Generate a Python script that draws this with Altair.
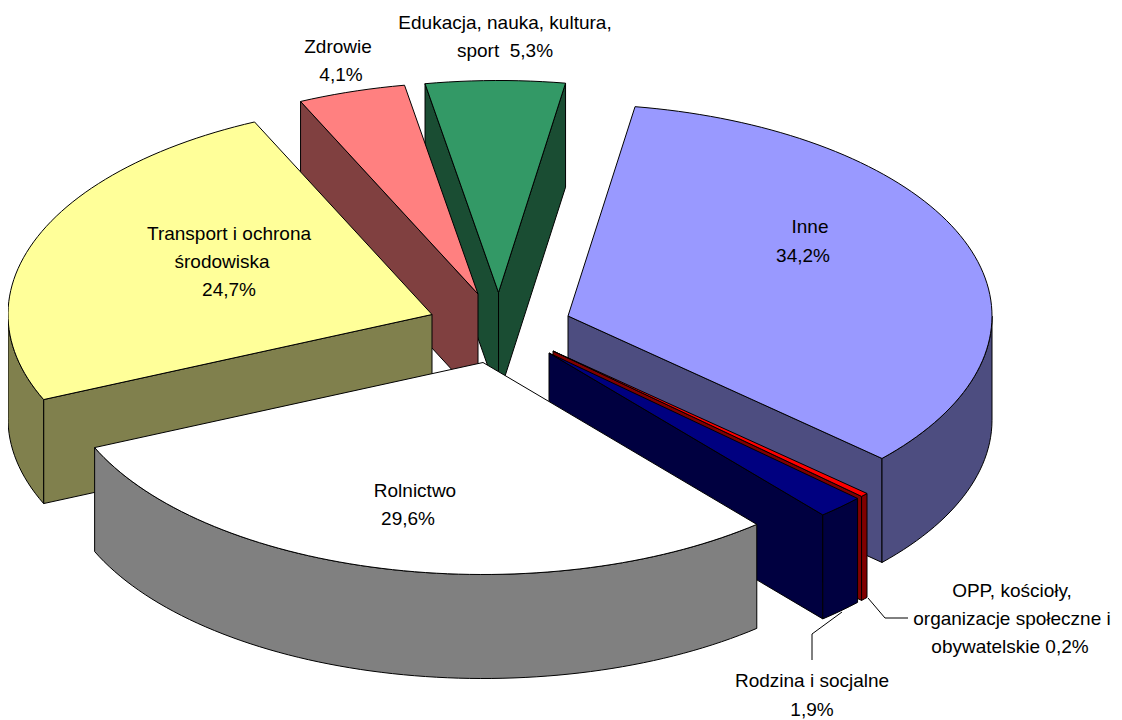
import math
import altair as alt
import pandas as pd

# Slice values in percent, clockwise from the first slice
categories = ["Inne", "OPP", "Rodzina", "Rolnictwo", "Transport", "Zdrowie", "Edukacja"]
values = [34.2, 0.3, 1.8, 29.6, 24.7, 4.1, 5.3]  # OPP reads 0,2 and Rodzina 1,9; the drawn strip is wider
first_angle = 9.1

# Colours
top_colors = ["#9999FF", "#FF0000", "#000080", "#FFFFFF", "#FFFF99", "#FF8080", "#339966"]
side_colors = ["#4D4D80", "#800000", "#000040", "#808080", "#80804D", "#804040", "#1A4D33"]

# Where each exploded slice's tip sits on the page, and the pie's projection
tip_x = [568, 553, 549, 483, 432, 478, 498.5]
tip_y = [316, 351, 353, 362.5, 314.5, 294, 292.5]
radius_x, radius_y, depth = 424, 212, 104

# Painter's order: back to front
draw_order = ["Edukacja", "Zdrowie", "Transport", "Inne", "OPP", "Rodzina", "Rolnictwo"]

# Labels: text lines, with their centres
label_text = ["Edukacja, nauka, kultura,", "sport\u00a0\u00a05,3%", "Zdrowie", "4,1%", "Inne", "34,2%",
              "Transport i ochrona", "środowiska", "24,7%", "Rolnictwo", "29,6%",
              "OPP, kościoły,", "organizacje społeczne i", "obywatelskie 0,2%",
              "Rodzina i socjalne", "1,9%"]
label_x = [505, 505, 338, 341, 810, 803, 229, 222, 229, 415, 408, 1012, 1012, 1010, 812, 812]
label_y = [23, 51, 47, 75, 227, 256, 234, 262, 290, 491, 519, 591, 619, 647, 681, 710]

# Leader lines
leader_id = ["a", "a", "a", "b", "b", "b"]
leader_x = [868, 885, 908, 842, 812, 812]
leader_y = [598, 618, 618, 612, 634, 660]

X = alt.X("x:Q", scale=alt.Scale(domain=[8, 1114]), axis=None)
Y = alt.Y("y:Q", scale=alt.Scale(domain=[720, 8]), axis=None)


def rim(cx, cy, angle, drop=0):
    a = math.radians(angle)
    return cx + radius_x * math.sin(a), cy - radius_y * math.cos(a) + drop


def polygon(points, fill):
    pts = list(points) + [points[0]]
    df = pd.DataFrame({"x": [p[0] for p in pts], "y": [p[1] for p in pts], "i": range(len(pts))})
    return alt.Chart(df).mark_line(fill=fill, stroke="#000000", strokeWidth=1, strokeJoin="round",
                                   clip=False).encode(x=X, y=Y, order="i:O")


starts = {}
acc = first_angle
for name, v in zip(categories, values):
    starts[name] = (acc, acc + v * 3.6)
    acc += v * 3.6

layers = []
for name in draw_order:
    k = categories.index(name)
    a0, a1 = starts[name]
    cx, cy = tip_x[k], tip_y[k]
    side, top = side_colors[k], top_colors[k]
    visible = []
    if math.sin(math.radians(a0)) < 0:
        visible.append(a0)
    if math.sin(math.radians(a1)) > 0:
        visible.append(a1)
    for ang in visible:
        rx, ry = rim(cx, cy, ang)
        layers.append(polygon([(cx, cy), (rx, ry), (rx, ry + depth), (cx, cy + depth)], side))
    n = max(2, int((a1 - a0) / 1.5))
    angles = [a0 + (a1 - a0) * i / n for i in range(n + 1)]
    wall = [t for t in angles if 90 <= t % 360 <= 270]
    if a0 < 90 < a1:
        wall = [90.0] + wall
    if a0 < 270 < a1:
        wall = wall + [270.0]
    if len(wall) > 1:
        up = [rim(cx, cy, t) for t in wall]
        down = [rim(cx, cy, t, depth) for t in reversed(wall)]
        layers.append(polygon(up + down, side))
    layers.append(polygon([(cx, cy)] + [rim(cx, cy, t) for t in angles], top))

leaders = pd.DataFrame({"id": leader_id, "x": leader_x, "y": leader_y, "i": range(len(leader_x))})
layers.append(alt.Chart(leaders).mark_line(color="#000000", strokeWidth=1).encode(
    x=X, y=Y, detail="id:N", order="i:O"))

labels = pd.DataFrame({"t": label_text, "x": label_x, "y": label_y})
layers.append(alt.Chart(labels).mark_text(font="Liberation Sans", fontSize=19, color="#000000",
                                          align="center", baseline="middle").encode(x=X, y=Y, text="t:N"))

chart = alt.layer(*layers).properties(
    width=1106, height=712, padding=0, autosize=alt.AutoSizeParams(type="none"),
    background="#FFFFFF",
).configure_view(stroke=None)

chart.save("out.html", embed_options={"renderer": "svg", "actions": False})
